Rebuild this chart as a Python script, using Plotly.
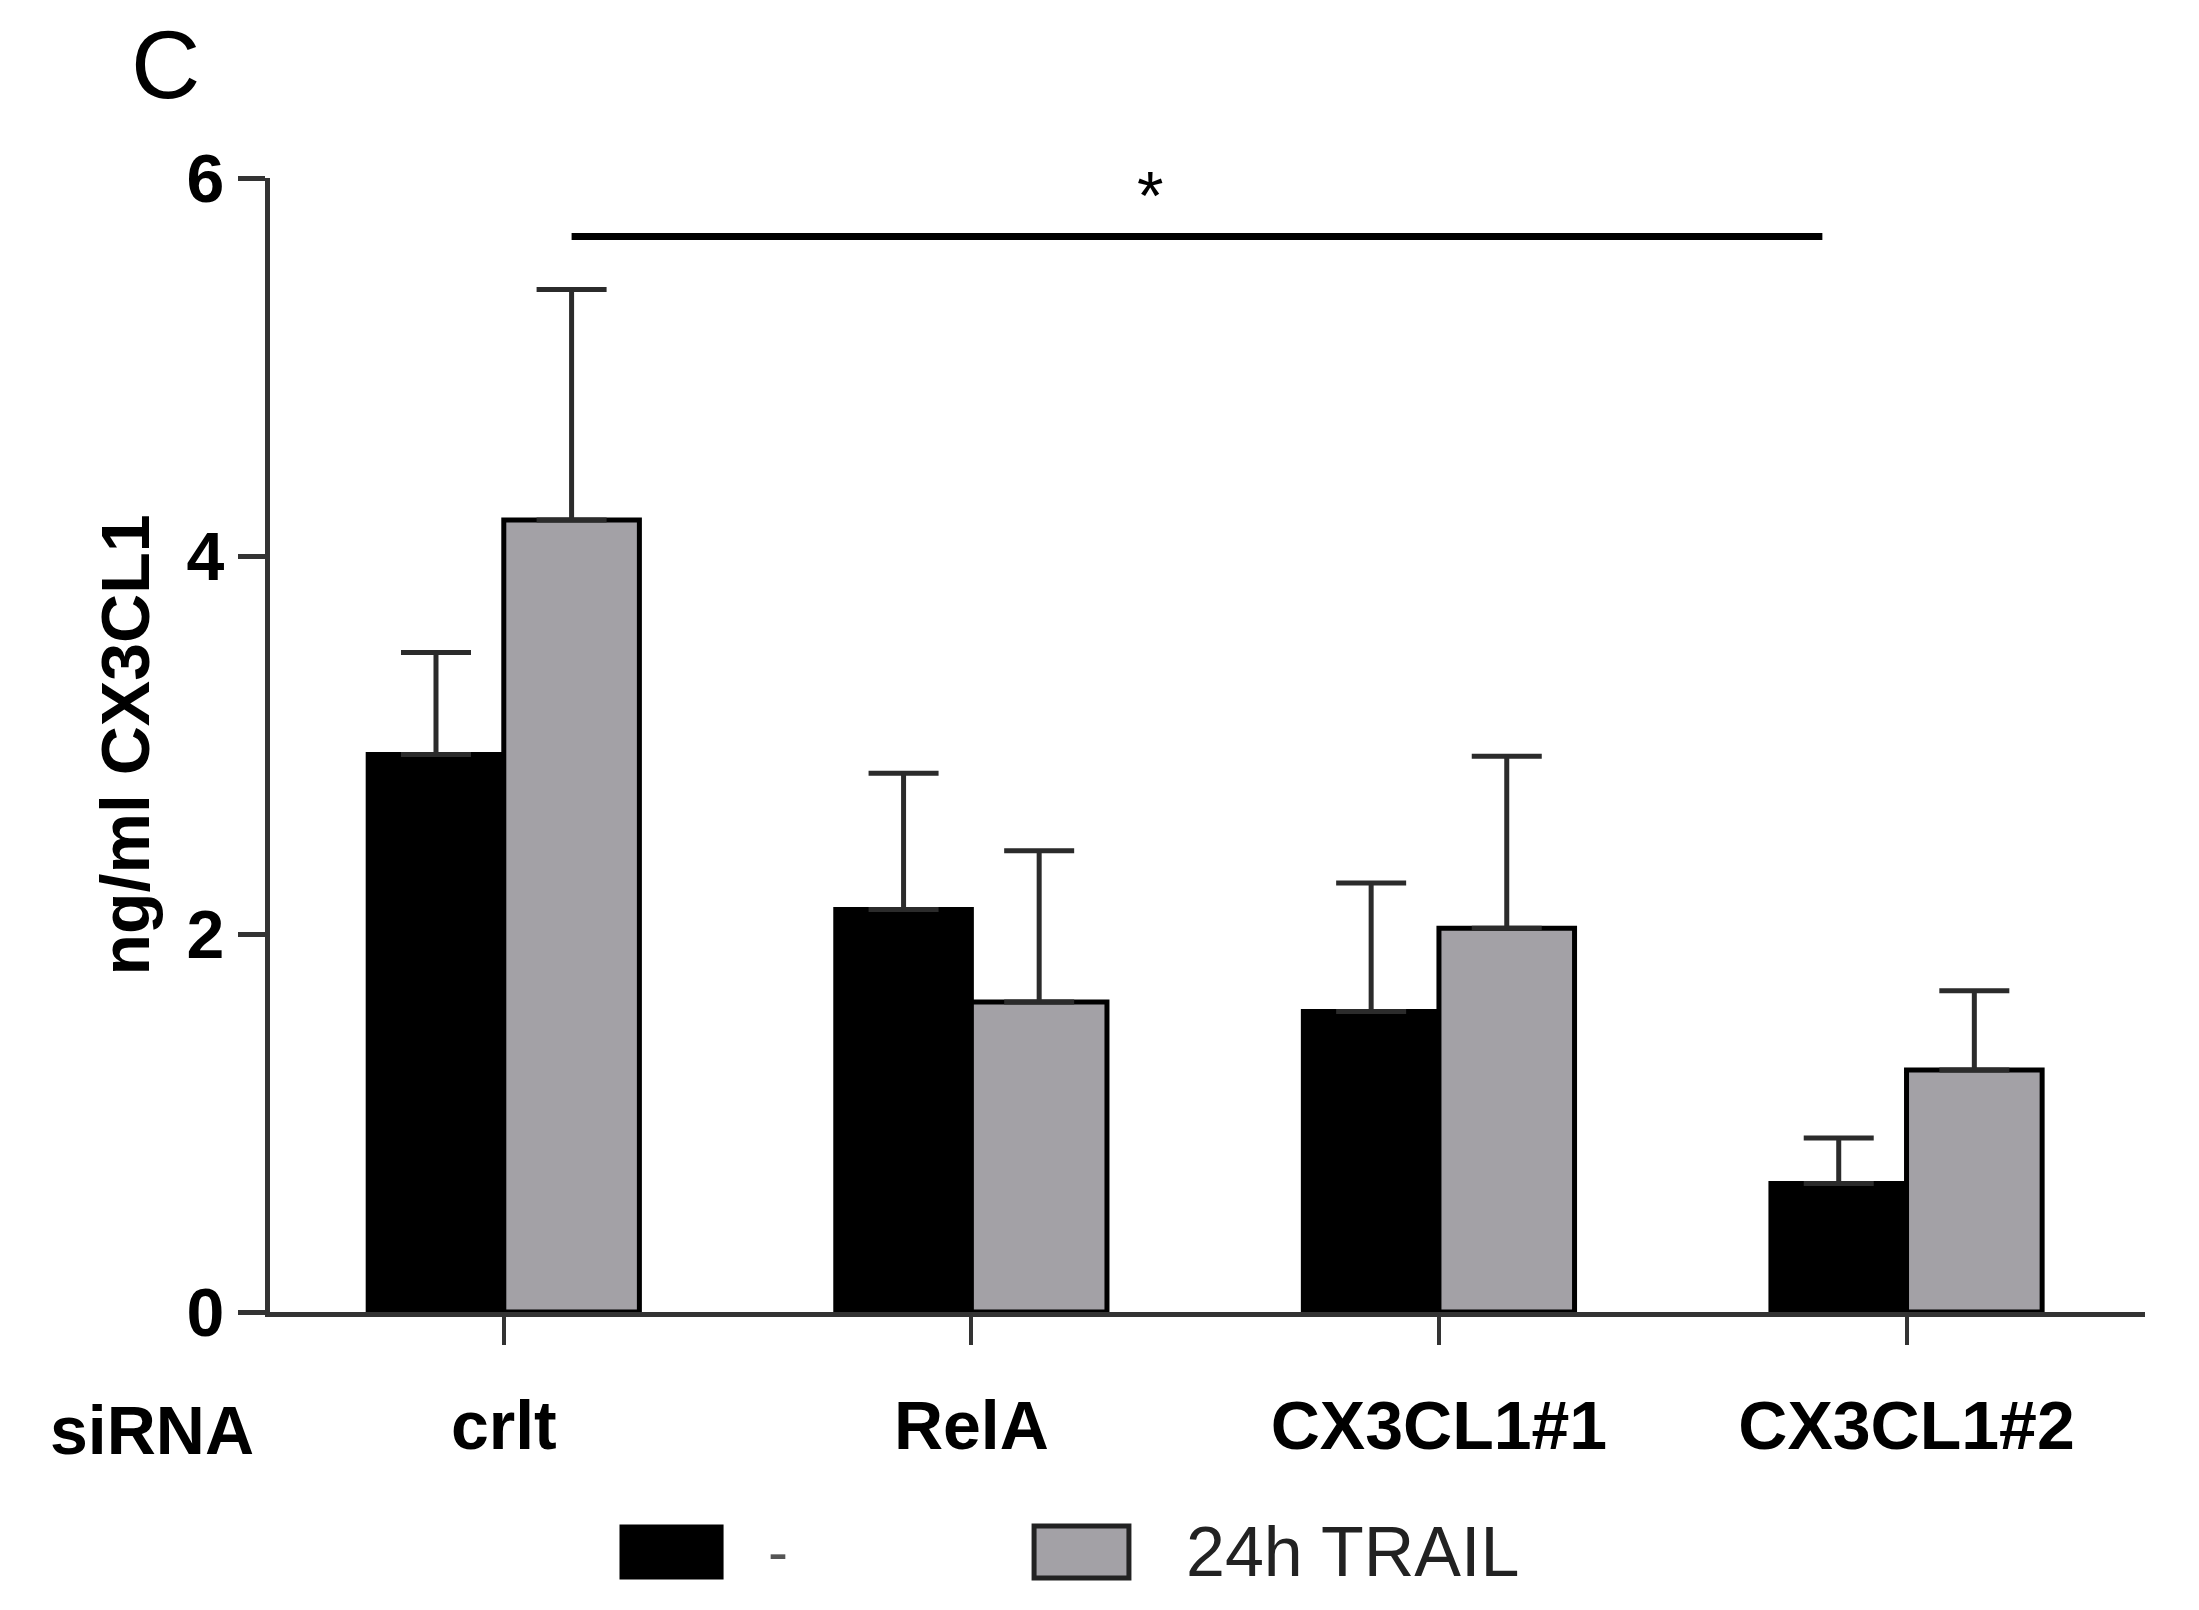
import plotly.graph_objects as go

# siRNA groups and the two treatment series (ng/ml CX3CL1)
groups = ['crlt', 'RelA', 'CX3CL1#1', 'CX3CL1#2']
control_vals = [2.95, 2.13, 1.59, 0.68]
control_err = [0.54, 0.72, 0.68, 0.24]
trail_vals = [4.19, 1.64, 2.03, 1.28]
trail_err = [1.22, 0.80, 0.91, 0.42]
series_names = ['-', '24h TRAIL']
y_ticks = [0, 2, 4, 6]

# significance bracket: from crlt/TRAIL bar to CX3CL1#2/- bar
sig_x = [0.145, 2.82]
sig_y = 5.69
sig_label = '*'

FONT = 'Liberation Sans, Arial, sans-serif'
GRAY = '#a3a1a6'

fig = go.Figure()
x_idx = list(range(len(groups)))

fig.add_trace(go.Bar(
    x=x_idx, y=control_vals, name=series_names[0],
    marker=dict(color='black', line=dict(color='black', width=5)),
    error_y=dict(type='data', symmetric=False, array=control_err,
                 arrayminus=[0] * len(groups), color='#2b2b2b',
                 thickness=5, width=35),
))
fig.add_trace(go.Bar(
    x=x_idx, y=trail_vals, name=series_names[1],
    marker=dict(color=GRAY, line=dict(color='black', width=5)),
    error_y=dict(type='data', symmetric=False, array=trail_err,
                 arrayminus=[0] * len(groups), color='#2b2b2b',
                 thickness=5, width=35),
))

# significance line and star
fig.add_trace(go.Scatter(
    x=sig_x, y=[sig_y, sig_y], mode='lines',
    line=dict(color='black', width=7), cliponaxis=False, hoverinfo='skip'
))
fig.add_annotation(x=sum(sig_x) / 2 - 0.1, y=sig_y, text=sig_label, showarrow=False,
                   xanchor='center', yanchor='bottom', yshift=2,
                   font=dict(family=FONT, size=68, color='black'))

# page body has an 8px margin, so the figure is a bit smaller than the window
fig.update_layout(
    width=2183, height=1594,
    margin=dict(l=262, r=46, t=170, b=290),
    plot_bgcolor='white', paper_bgcolor='white',
    barmode='group', bargap=0.42, bargroupgap=0,
    showlegend=False,
    font=dict(family=FONT, size=68, color='black'),
)

fig.update_xaxes(
    range=[-0.5, 3.51], tickvals=x_idx, ticktext=['<b>%s</b>' % g for g in groups],
    ticks='outside', ticklen=28, tickwidth=4, tickcolor='#333333',
    showline=True, linecolor='#333333', linewidth=5, showgrid=False, zeroline=False,
    ticklabelstandoff=22, tickfont=dict(size=68),
)
fig.update_yaxes(
    range=[0, 6], tickvals=y_ticks, ticktext=['<b>%d</b>' % v for v in y_ticks],
    ticks='outside', ticklen=27, tickwidth=5, tickcolor='#333333',
    showline=True, linecolor='#333333', linewidth=5, showgrid=False, zeroline=False,
    title=dict(text='<b>ng/ml CX3CL1</b>', font=dict(size=68), standoff=16),
    tickfont=dict(size=68),
)

# panel letter and row label
fig.add_annotation(xref='paper', yref='paper', x=-0.0555, y=1.149, text='C',
                   xanchor='center', yanchor='top', showarrow=False, font=dict(size=96))
fig.add_annotation(xref='paper', yref='paper', x=-0.063, y=-0.104, text='<b>siRNA</b>',
                   xanchor='center', yanchor='middle', showarrow=False, font=dict(size=68))

# legend drawn as swatches below the plot
fig.add_shape(type='rect', xref='paper', yref='paper', x0=0.1872, x1=0.2411, y0=-0.2346, y1=-0.1887,
              fillcolor='black', line=dict(color='black', width=3))
fig.add_annotation(xref='paper', yref='paper', x=0.271, y=-0.2116, text=series_names[0],
                   xanchor='center', yanchor='middle', showarrow=False,
                   font=dict(size=60, color='#555555'))
fig.add_shape(type='rect', xref='paper', yref='paper', x0=0.4075, x1=0.4581, y0=-0.2346, y1=-0.1887,
              fillcolor=GRAY, line=dict(color='#222222', width=5))
fig.add_annotation(xref='paper', yref='paper', x=0.4875, y=-0.2116, text=series_names[1],
                   xanchor='left', yanchor='middle', showarrow=False,
                   font=dict(size=70, color='#222222'))

fig.write_html('out.html')
